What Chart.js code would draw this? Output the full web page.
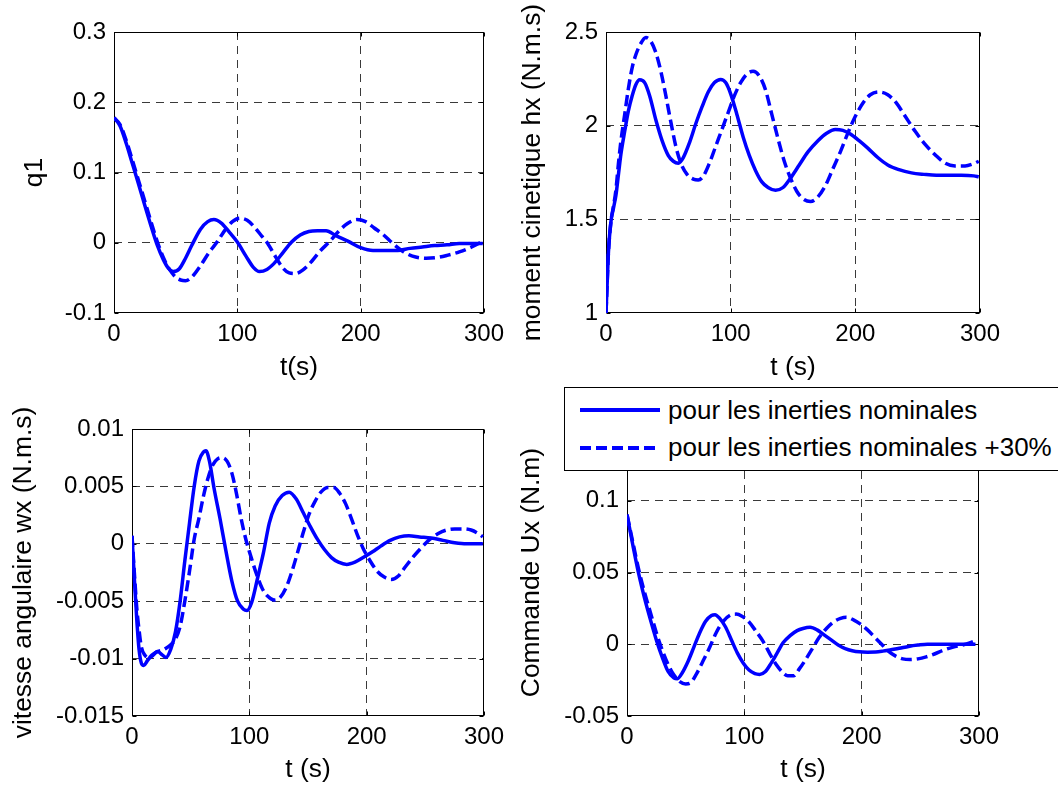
<!DOCTYPE html>
<html>
<head>
<meta charset="utf-8">
<title>Réponses q1, hx, wx, Ux</title>
<script src="https://cdn.jsdelivr.net/npm/chart.js@4.4.0/dist/chart.umd.min.js"></script>
<style>
    body { margin: 0; background: #fff; width: 1058px; height: 787px; overflow: hidden; position: relative; }
    canvas { position: absolute; left: 0; top: 0; }
    #legende {
        position: absolute; left: 564px; top: 387px; width: 540px; height: 84px;
        box-sizing: border-box; border: 1px solid #000; background: #fff; z-index: 10;
        font-family: 'Liberation Sans', Arial, Helvetica, sans-serif; font-size: 26px; color: #000;
    }
    #legende .trait { position: absolute; left: 15px; height: 3.5px; }
    #legende .plein { top: 20px; width: 80px; background: #0000ff; }
    #legende .tirets { top: 58px; width: 75px; background: repeating-linear-gradient(to right, #0000ff 0 11px, transparent 11px 16px); }
    #legende .texte { position: absolute; left: 103px; line-height: 30px; white-space: nowrap; }
</style>
</head>
<body>
<canvas id="chartQ1" width="1058" height="787"></canvas>
<canvas id="chartHx" width="1058" height="787"></canvas>
<canvas id="chartWx" width="1058" height="787"></canvas>
<canvas id="chartUx" width="1058" height="787"></canvas>

<div id="legende">
    <div class="trait plein"></div>
    <div class="texte" style="top:7px">pour les inerties nominales</div>
    <div class="trait tirets"></div>
    <div class="texte" style="top:44px">pour les inerties nominales +30%</div>
</div>

<script>
// --- Données ---
const tTicks = [0, 100, 200, 300];

// q1
const tQ1Nom = [0, 5, 10, 15, 20, 25, 30, 35, 40, 44, 48, 53, 58, 63, 70, 76, 81, 87, 94, 100, 107, 113, 118, 124, 130, 137, 144, 151, 158, 165, 172, 180, 190, 200, 210, 220, 230, 240, 250, 260, 270, 280, 290, 299];
const q1Nom = [0.178, 0.166, 0.141, 0.112, 0.083, 0.053, 0.024, -0.003, -0.024, -0.036, -0.041, -0.037, -0.022, -0.004, 0.019, 0.030, 0.033, 0.028, 0.014, 0.001, -0.019, -0.035, -0.041, -0.038, -0.029, -0.014, 0.001, 0.011, 0.016, 0.017, 0.017, 0.010, 0.002, -0.007, -0.011, -0.011, -0.011, -0.008, -0.006, -0.004, -0.003, -0.001, -0.001, -0.001];
const tQ1Plus = [0, 5, 10, 15, 20, 25, 30, 35, 40, 45, 50, 54, 58, 63, 70, 77, 84, 90, 96, 102, 108, 114, 120, 125, 131, 137, 142, 147, 153, 160, 167, 175, 182, 189, 197, 204, 211, 218, 226, 234, 242, 253, 262, 270, 280, 290, 299];
const q1Plus = [0.178, 0.168, 0.145, 0.117, 0.088, 0.059, 0.030, 0.002, -0.021, -0.038, -0.049, -0.053, -0.054, -0.049, -0.033, -0.014, 0.002, 0.018, 0.030, 0.035, 0.032, 0.022, 0.009, -0.002, -0.020, -0.036, -0.043, -0.044, -0.039, -0.027, -0.012, 0.002, 0.016, 0.027, 0.033, 0.030, 0.021, 0.012, -0.001, -0.012, -0.019, -0.022, -0.021, -0.018, -0.013, -0.006, 0.002];
const q1Ticks = [-0.1, 0, 0.1, 0.2, 0.3];

// moment cinetique hx
const tHxNom = [0, 1, 2, 4, 6, 8, 10, 12, 15, 18, 21, 24, 27, 31, 35, 40, 45, 50, 54, 58, 62, 67, 72, 77, 82, 87, 92, 96, 100, 105, 110, 115, 120, 125, 130, 136, 142, 148, 155, 162, 170, 177, 184, 190, 196, 203, 210, 218, 226, 235, 245, 255, 265, 275, 285, 295, 299];
const hxNom = [1.0, 1.17, 1.33, 1.49, 1.56, 1.63, 1.74, 1.85, 1.97, 2.08, 2.16, 2.22, 2.245, 2.23, 2.16, 2.03, 1.92, 1.84, 1.81, 1.80, 1.83, 1.91, 2.01, 2.10, 2.18, 2.23, 2.247, 2.23, 2.17, 2.06, 1.94, 1.84, 1.76, 1.70, 1.67, 1.655, 1.67, 1.72, 1.79, 1.86, 1.92, 1.96, 1.98, 1.975, 1.955, 1.92, 1.88, 1.83, 1.79, 1.765, 1.748, 1.74, 1.735, 1.735, 1.735, 1.732, 1.727];
const tHxPlus = [0, 1, 2, 4, 6, 8, 10, 12, 15, 18, 21, 24, 28, 32, 36, 40, 44, 48, 52, 56, 60, 65, 70, 74, 78, 83, 88, 93, 98, 103, 108, 113, 118, 123, 128, 133, 138, 143, 148, 153, 158, 164, 170, 176, 182, 188, 194, 200, 206, 212, 219, 226, 233, 240, 248, 256, 264, 272, 280, 288, 294, 299];
const hxPlus = [1.0, 1.17, 1.33, 1.49, 1.57, 1.66, 1.80, 1.92, 2.06, 2.20, 2.31, 2.38, 2.44, 2.47, 2.45, 2.39, 2.29, 2.16, 2.02, 1.89, 1.80, 1.74, 1.715, 1.71, 1.73, 1.80, 1.89, 1.98, 2.07, 2.16, 2.23, 2.275, 2.29, 2.265, 2.19, 2.06, 1.93, 1.81, 1.72, 1.65, 1.61, 1.595, 1.62, 1.68, 1.77, 1.86, 1.96, 2.05, 2.12, 2.165, 2.18, 2.165, 2.12, 2.05, 1.97, 1.90, 1.845, 1.80, 1.785, 1.785, 1.795, 1.81];
const hxTicks = [1, 1.5, 2, 2.5];

// vitesse angulaire wx
const tWxNom = [0, 2, 4, 6, 8, 10, 13, 17, 22, 26, 29, 33, 37, 41, 45, 49, 53, 57, 61, 63, 66, 70, 75, 80, 85, 90, 95, 98, 102, 107, 112, 117, 122, 128, 134, 140, 146, 152, 158, 164, 170, 176, 183, 190, 197, 205, 212, 220, 228, 236, 245, 255, 265, 275, 285, 299];
const wxNom = [0.0007, -0.003, -0.0065, -0.0092, -0.0104, -0.0106, -0.0102, -0.0097, -0.0094, -0.0097, -0.0099, -0.0092, -0.0077, -0.0050, -0.0015, 0.0018, 0.0050, 0.0072, 0.0080, 0.0081, 0.0072, 0.0048, 0.0022, -0.0006, -0.0032, -0.0050, -0.0057, -0.0058, -0.0051, -0.0030, -0.0008, 0.0018, 0.0033, 0.0042, 0.0045, 0.0039, 0.0027, 0.0015, 0.0004, -0.0005, -0.0012, -0.0016, -0.0018, -0.0016, -0.0012, -0.0007, -0.0002, 0.0003, 0.0006, 0.0007, 0.0006, 0.0005, 0.0003, 0.0001, 0.0, 0.0];
const tWxPlus = [0, 2, 4, 6, 8, 11, 14, 17, 21, 25, 29, 33, 37, 41, 45, 49, 53, 57, 61, 65, 69, 73, 77, 81, 85, 89, 93, 97, 101, 106, 111, 116, 121, 126, 131, 136, 141, 146, 151, 156, 161, 167, 172, 177, 182, 187, 192, 197, 203, 209, 215, 221, 227, 233, 240, 247, 254, 261, 268, 275, 282, 289, 295, 299];
const wxPlus = [0.0007, -0.0025, -0.0055, -0.0075, -0.0090, -0.0097, -0.0099, -0.0098, -0.0094, -0.0093, -0.0091, -0.0088, -0.0083, -0.0072, -0.0050, -0.0024, 0.0004, 0.0022, 0.0042, 0.0058, 0.0069, 0.0074, 0.0075, 0.0072, 0.0062, 0.0044, 0.0022, 0.0004, -0.0010, -0.0026, -0.0039, -0.0046, -0.0049, -0.0047, -0.0039, -0.0025, -0.0008, 0.0010, 0.0026, 0.0037, 0.0045, 0.0049, 0.0049, 0.0044, 0.0035, 0.0022, 0.0008, -0.0004, -0.0015, -0.0024, -0.0029, -0.0031, -0.0028, -0.0020, -0.0011, -0.0003, 0.0004, 0.0009, 0.0012, 0.0013, 0.0013, 0.0012, 0.0009, 0.0006];
const wxTicks = [-0.015, -0.01, -0.005, 0, 0.005, 0.01];

// commande Ux
const tUxNom = [0, 5, 10, 15, 20, 25, 30, 35, 40, 43, 47, 52, 57, 62, 67, 72, 75, 79, 84, 89, 94, 99, 104, 109, 113, 118, 123, 128, 133, 139, 145, 150, 156, 162, 168, 174, 180, 186, 192, 198, 205, 212, 218, 225, 232, 240, 248, 256, 270, 285, 297];
const uxNom = [0.0903, 0.069, 0.049, 0.032, 0.017, 0.003, -0.009, -0.019, -0.0235, -0.024, -0.020, -0.012, -0.002, 0.008, 0.016, 0.020, 0.0206, 0.018, 0.012, 0.003, -0.006, -0.013, -0.018, -0.0205, -0.021, -0.019, -0.013, -0.006, 0.001, 0.006, 0.0095, 0.011, 0.0118, 0.010, 0.0065, 0.003, -0.0005, -0.003, -0.0045, -0.0053, -0.0055, -0.0054, -0.0048, -0.0038, -0.0028, -0.0015, -0.0006, 0.0, 0.0, 0.0, 0.0];
const tUxPlus = [0, 5, 10, 15, 20, 25, 30, 35, 40, 45, 50, 54, 59, 64, 70, 76, 82, 88, 93, 98, 104, 110, 116, 122, 127, 132, 137, 142, 147, 152, 158, 164, 170, 176, 182, 187, 193, 199, 205, 211, 217, 223, 229, 235, 241, 248, 255, 262, 270, 278, 286, 292, 297];
const uxPlus = [0.0903, 0.071, 0.052, 0.036, 0.022, 0.008, -0.004, -0.014, -0.0215, -0.026, -0.0277, -0.027, -0.021, -0.013, -0.003, 0.008, 0.016, 0.0203, 0.021, 0.0195, 0.0155, 0.009, 0.002, -0.007, -0.014, -0.019, -0.022, -0.022, -0.017, -0.011, -0.003, 0.005, 0.011, 0.0155, 0.018, 0.0188, 0.017, 0.014, 0.010, 0.005, 0.0, -0.005, -0.0083, -0.0102, -0.0107, -0.0102, -0.0088, -0.0068, -0.004, -0.002, -0.0005, 0.001, 0.0025];
const uxTicks = [-0.05, 0, 0.05, 0.1, 0.15];

// --- Style ---
const BLEU = '#0000ff';
const GRILLE = '#3a3a3a';
const EPAISSEUR = 3.5;
const POLICE = "'Liberation Sans', Arial, Helvetica, sans-serif";
const fontTicks = { family: POLICE, size: 24, lineHeight: 1.2 };
const fontTitre = { family: POLICE, size: 26.4, lineHeight: 1.2 };

function pts(ts, ys) {
    return ts.map((t, i) => ({ x: t, y: ys[i] }));
}

// Cadre plein, petites graduations intérieures et titre vertical de l'axe y
const cadre = {
    id: 'cadre',
    beforeDatasetsDraw(chart) {
        const { ctx, chartArea: a, scales } = chart;
        const l = Math.round(a.left) + 0.5, r = Math.round(a.right) - 0.5;
        const t = Math.round(a.top) + 0.5, b = Math.round(a.bottom) - 0.5;
        ctx.save();
        ctx.strokeStyle = '#000';
        ctx.lineWidth = 1;
        ctx.strokeRect(l, t, r - l, b - t);
        ctx.beginPath();
        scales.x.ticks.forEach(tk => {
            const px = Math.round(scales.x.getPixelForValue(tk.value)) + 0.5;
            ctx.moveTo(px, b); ctx.lineTo(px, b - 4);
            ctx.moveTo(px, t); ctx.lineTo(px, t + 4);
        });
        scales.y.ticks.forEach(tk => {
            const py = Math.round(scales.y.getPixelForValue(tk.value)) + 0.5;
            ctx.moveTo(l, py); ctx.lineTo(l + 4, py);
            ctx.moveTo(r, py); ctx.lineTo(r - 4, py);
        });
        ctx.stroke();
        ctx.restore();
    },
    afterDraw(chart, args, opts) {
        const { ctx, chartArea: a, scales } = chart;
        ctx.save();
        ctx.translate(scales.y.left + fontTitre.size * fontTitre.lineHeight / 2, (a.top + a.bottom) / 2);
        ctx.rotate(-Math.PI / 2);
        ctx.font = fontTitre.size + 'px ' + POLICE;
        ctx.fillStyle = '#000';
        ctx.textAlign = 'center';
        ctx.textBaseline = 'middle';
        ctx.fillText(opts.titre, 0, 0);
        ctx.restore();
    }
};

function grilleSauf(min, max) {
    // pas de pointillés sur les bords : le cadre est plein
    return c => (c.tick && (c.tick.value === min || c.tick.value === max)) ? 'rgba(0,0,0,0)' : GRILLE;
}

function tracer(id, o) {
    const yMin = o.yTicks[0], yMax = o.yTicks[o.yTicks.length - 1];
    new Chart(document.getElementById(id), {
        type: 'line',
        data: {
            datasets: [{
                label: 'pour les inerties nominales',
                data: pts(o.t1, o.y1),
                borderColor: BLEU,
                borderWidth: EPAISSEUR,
                pointRadius: 0,
                cubicInterpolationMode: 'monotone'
            }, {
                label: 'pour les inerties nominales +30%',
                data: pts(o.t2, o.y2),
                borderColor: BLEU,
                borderWidth: EPAISSEUR,
                borderDash: [11, 5],
                pointRadius: 0,
                cubicInterpolationMode: 'monotone'
            }]
        },
        options: {
            responsive: false,
            animation: false,
            events: [],
            layout: {
                padding: {
                    left: o.box.left - o.yW,
                    top: o.box.top,
                    right: 1058 - o.box.right,
                    bottom: 787 - o.box.bottom - o.xH
                }
            },
            plugins: {
                legend: { display: false },
                tooltip: { enabled: false },
                cadre: { titre: o.yTitre }
            },
            scales: {
                x: {
                    type: 'linear',
                    min: 0,
                    max: 300,
                    afterBuildTicks: s => { s.ticks = tTicks.map(v => ({ value: v })); },
                    afterFit: s => { s.height = o.xH; },
                    ticks: { font: fontTicks, color: '#000', padding: 7, maxRotation: 0, autoSkip: false, callback: v => String(v) },
                    grid: { color: grilleSauf(0, 300), lineWidth: 1, drawTicks: false },
                    border: { display: false, dash: [8, 6] },
                    title: { display: true, text: o.xTitre, font: fontTitre, color: '#000', padding: 0 }
                },
                y: {
                    type: 'linear',
                    min: yMin,
                    max: yMax,
                    afterBuildTicks: s => { s.ticks = o.yTicks.map(v => ({ value: v })); },
                    afterFit: s => { s.width = o.yW; },
                    ticks: { font: fontTicks, color: '#000', padding: 8, autoSkip: false, callback: v => String(v) },
                    grid: { color: grilleSauf(yMin, yMax), lineWidth: 1, drawTicks: false },
                    border: { display: false, dash: [8, 6] }
                }
            }
        },
        plugins: [cadre]
    });
}

tracer('chartQ1', {
    box: { left: 114, top: 32, right: 484, bottom: 313 }, yW: 95, xH: 71,
    t1: tQ1Nom, y1: q1Nom, t2: tQ1Plus, y2: q1Plus, yTicks: q1Ticks,
    yTitre: 'q1', xTitre: 't(s)'
});
tracer('chartHx', {
    box: { left: 606, top: 32, right: 980, bottom: 313 }, yW: 89, xH: 71,
    t1: tHxNom, y1: hxNom, t2: tHxPlus, y2: hxPlus, yTicks: hxTicks,
    yTitre: 'moment cinetique hx (N.m.s)', xTitre: 't (s)'
});
tracer('chartWx', {
    box: { left: 132, top: 429, right: 484, bottom: 716 }, yW: 124, xH: 70,
    t1: tWxNom, y1: wxNom, t2: tWxPlus, y2: wxPlus, yTicks: wxTicks,
    yTitre: 'vitesse angulaire wx (N.m.s)', xTitre: 't (s)'
});
tracer('chartUx', {
    box: { left: 627, top: 429, right: 979, bottom: 716 }, yW: 111, xH: 70,
    t1: tUxNom, y1: uxNom, t2: tUxPlus, y2: uxPlus, yTicks: uxTicks,
    yTitre: 'Commande Ux (N.m)', xTitre: 't (s)'
});
</script>
</body>
</html>
